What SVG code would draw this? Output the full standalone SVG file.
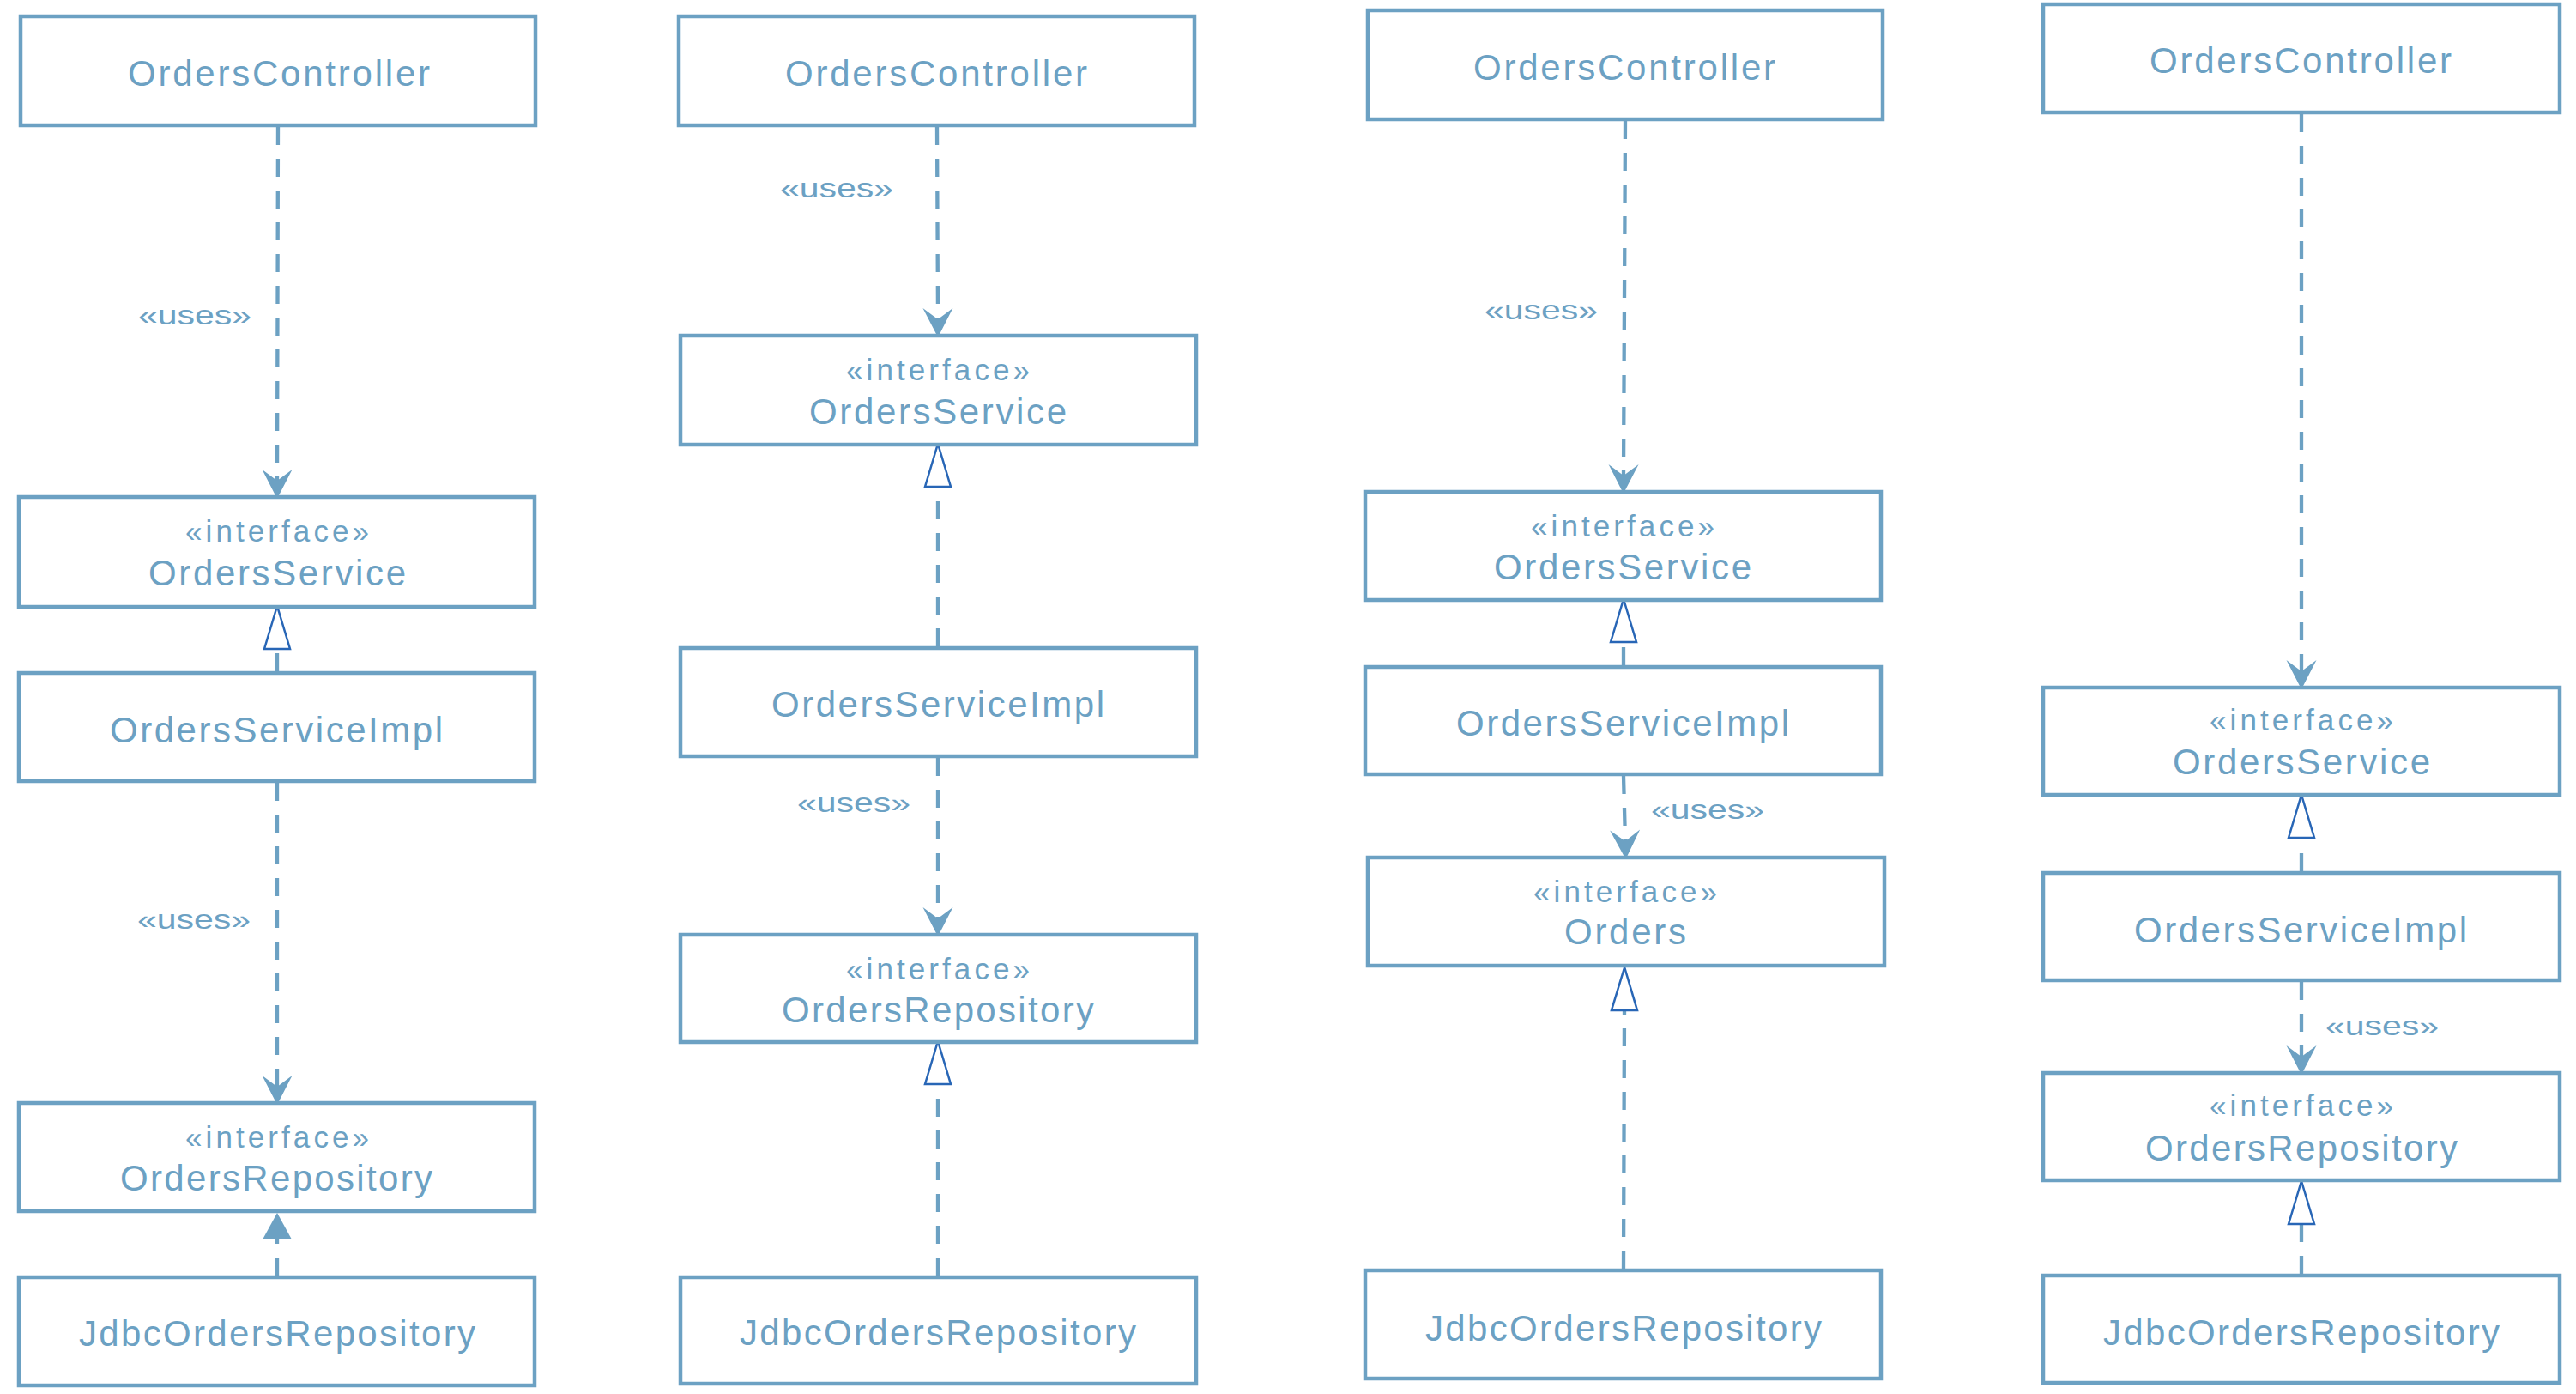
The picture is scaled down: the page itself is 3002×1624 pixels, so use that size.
<svg xmlns="http://www.w3.org/2000/svg" width="3002" height="1624" viewBox="0 0 3002 1624">
<style>
.box{fill:#ffffff;stroke:#6ca1c3;stroke-width:4.5}
.name{font-family:"Liberation Sans",Arial,sans-serif;font-size:42px;fill:#6ca1c3;text-anchor:middle}
.st{font-family:"Liberation Sans",Arial,sans-serif;font-size:35px;fill:#6ca1c3;text-anchor:middle}
.lbl{font-family:"Liberation Sans",Arial,sans-serif;font-size:32px;fill:#6ca1c3;text-anchor:middle}
.dep{fill:none;stroke:#6ca1c3;stroke-width:4.3;stroke-dasharray:21 16;marker-end:url(#uses)}
.real{fill:none;stroke:#6ca1c3;stroke-width:4.3;stroke-dasharray:21 16;marker-end:url(#tri)}
.realf{fill:none;stroke:#6ca1c3;stroke-width:4.3;stroke-dasharray:21 16;marker-end:url(#trif)}
</style>
<defs>
<marker id="uses" markerUnits="userSpaceOnUse" viewBox="0 0 34 35" markerWidth="34" markerHeight="35" refX="13" refY="17.5" orient="auto" overflow="visible">
<path d="M0,0 L34,17.5 L0,35 L13,17.5 Z" fill="#6ca1c3"/>
</marker>
<marker id="tri" markerUnits="userSpaceOnUse" viewBox="0 0 52 32" markerWidth="52" markerHeight="32" refX="1" refY="16" orient="auto" overflow="visible">
<path d="M1,1 L51,16 L1,31 Z" fill="#ffffff" stroke="#2866b6" stroke-width="2.5" stroke-linejoin="miter"/>
</marker>
<marker id="trif" markerUnits="userSpaceOnUse" viewBox="0 0 31 34" markerWidth="31" markerHeight="34" refX="0" refY="17" orient="auto" overflow="visible">
<path d="M0,0 L31,17 L0,34 Z" fill="#6ca1c3"/>
</marker>
</defs>

<g id="connectors">
<!-- column 1 -->
<path class="dep" d="M324,148 L323,560"/>
<path class="real" d="M323,782 L323,756"/>
<path class="dep" d="M323,912 L323,1266"/>
<path class="realf" d="M323,1486 L323,1444"/>
<!-- column 2 -->
<path class="dep" d="M1092,148 L1093,372"/>
<path class="real" d="M1093,753 L1093,567"/>
<path class="dep" d="M1093,883 L1093,1070"/>
<path class="real" d="M1093,1486 L1093,1263"/>
<!-- column 3 -->
<path class="dep" d="M1894,141 L1892,554"/>
<path class="real" d="M1892,775 L1892,748"/>
<path class="dep" d="M1892,904 L1894,980"/>
<path class="real" d="M1892,1478 L1893,1177"/>
<!-- column 4 -->
<path class="dep" d="M2682,133 L2682,782"/>
<path class="real" d="M2682,1015 L2682,976"/>
<path class="dep" d="M2682,1144 L2682,1231"/>
<path class="real" d="M2682,1484 L2682,1426"/>
<!-- labels -->
<text class="lbl" x="227" y="378" textLength="132" lengthAdjust="spacingAndGlyphs">«uses»</text>
<text class="lbl" x="226" y="1082" textLength="132" lengthAdjust="spacingAndGlyphs">«uses»</text>
<text class="lbl" x="975" y="230" textLength="132" lengthAdjust="spacingAndGlyphs">«uses»</text>
<text class="lbl" x="995" y="946" textLength="132" lengthAdjust="spacingAndGlyphs">«uses»</text>
<text class="lbl" x="1796" y="372" textLength="132" lengthAdjust="spacingAndGlyphs">«uses»</text>
<text class="lbl" x="1990" y="954" textLength="132" lengthAdjust="spacingAndGlyphs">«uses»</text>
<text class="lbl" x="2776" y="1206" textLength="132" lengthAdjust="spacingAndGlyphs">«uses»</text>
</g>

<!-- column 1 nodes -->
<g id="c1-controller">
<rect class="box" x="24" y="19" width="600" height="127"/>
<text class="name" x="325" y="100" textLength="352" lengthAdjust="spacing">OrdersController</text>
</g>
<g id="c1-service">
<rect class="box" x="22" y="579" width="601" height="128"/>
<text class="st" x="323" y="631" textLength="214" lengthAdjust="spacing">«interface»</text>
<text class="name" x="323" y="682" textLength="300" lengthAdjust="spacing">OrdersService</text>
</g>
<g id="c1-impl">
<rect class="box" x="22" y="784" width="601" height="126"/>
<text class="name" x="322" y="865" textLength="388" lengthAdjust="spacing">OrdersServiceImpl</text>
</g>
<g id="c1-repo">
<rect class="box" x="22" y="1285" width="601" height="126"/>
<text class="st" x="323" y="1337" textLength="214" lengthAdjust="spacing">«interface»</text>
<text class="name" x="322" y="1387" textLength="364" lengthAdjust="spacing">OrdersRepository</text>
</g>
<g id="c1-jdbc">
<rect class="box" x="22" y="1488" width="601" height="126"/>
<text class="name" x="323" y="1568" textLength="462" lengthAdjust="spacing">JdbcOrdersRepository</text>
</g>

<!-- column 2 nodes -->
<g id="c2-controller">
<rect class="box" x="791" y="19" width="601" height="127"/>
<text class="name" x="1091" y="100" textLength="352" lengthAdjust="spacing">OrdersController</text>
</g>
<g id="c2-service">
<rect class="box" x="793" y="391" width="601" height="127"/>
<text class="st" x="1093" y="443" textLength="214" lengthAdjust="spacing">«interface»</text>
<text class="name" x="1093" y="494" textLength="300" lengthAdjust="spacing">OrdersService</text>
</g>
<g id="c2-impl">
<rect class="box" x="793" y="755" width="601" height="126"/>
<text class="name" x="1093" y="835" textLength="388" lengthAdjust="spacing">OrdersServiceImpl</text>
</g>
<g id="c2-repo">
<rect class="box" x="793" y="1089" width="601" height="125"/>
<text class="st" x="1093" y="1141" textLength="214" lengthAdjust="spacing">«interface»</text>
<text class="name" x="1093" y="1191" textLength="364" lengthAdjust="spacing">OrdersRepository</text>
</g>
<g id="c2-jdbc">
<rect class="box" x="793" y="1488" width="601" height="124"/>
<text class="name" x="1093" y="1567" textLength="462" lengthAdjust="spacing">JdbcOrdersRepository</text>
</g>

<!-- column 3 nodes -->
<g id="c3-controller">
<rect class="box" x="1594" y="12" width="600" height="127"/>
<text class="name" x="1893" y="93" textLength="352" lengthAdjust="spacing">OrdersController</text>
</g>
<g id="c3-service">
<rect class="box" x="1591" y="573" width="601" height="126"/>
<text class="st" x="1891" y="625" textLength="214" lengthAdjust="spacing">«interface»</text>
<text class="name" x="1891" y="675" textLength="300" lengthAdjust="spacing">OrdersService</text>
</g>
<g id="c3-impl">
<rect class="box" x="1591" y="777" width="601" height="125"/>
<text class="name" x="1891" y="857" textLength="388" lengthAdjust="spacing">OrdersServiceImpl</text>
</g>
<g id="c3-orders">
<rect class="box" x="1594" y="999" width="602" height="126"/>
<text class="st" x="1894" y="1051" textLength="214" lengthAdjust="spacing">«interface»</text>
<text class="name" x="1894" y="1100" textLength="142" lengthAdjust="spacing">Orders</text>
</g>
<g id="c3-jdbc">
<rect class="box" x="1591" y="1480" width="601" height="126"/>
<text class="name" x="1892" y="1562" textLength="462" lengthAdjust="spacing">JdbcOrdersRepository</text>
</g>

<!-- column 4 nodes -->
<g id="c4-controller">
<rect class="box" x="2381" y="5" width="602" height="126"/>
<text class="name" x="2681" y="85" textLength="352" lengthAdjust="spacing">OrdersController</text>
</g>
<g id="c4-service">
<rect class="box" x="2381" y="801" width="602" height="125"/>
<text class="st" x="2682" y="851" textLength="214" lengthAdjust="spacing">«interface»</text>
<text class="name" x="2682" y="902" textLength="300" lengthAdjust="spacing">OrdersService</text>
</g>
<g id="c4-impl">
<rect class="box" x="2381" y="1017" width="602" height="125"/>
<text class="name" x="2681" y="1098" textLength="388" lengthAdjust="spacing">OrdersServiceImpl</text>
</g>
<g id="c4-repo">
<rect class="box" x="2381" y="1250" width="602" height="125"/>
<text class="st" x="2682" y="1300" textLength="214" lengthAdjust="spacing">«interface»</text>
<text class="name" x="2682" y="1352" textLength="364" lengthAdjust="spacing">OrdersRepository</text>
</g>
<g id="c4-jdbc">
<rect class="box" x="2381" y="1486" width="602" height="125"/>
<text class="name" x="2682" y="1567" textLength="462" lengthAdjust="spacing">JdbcOrdersRepository</text>
</g>
</svg>
